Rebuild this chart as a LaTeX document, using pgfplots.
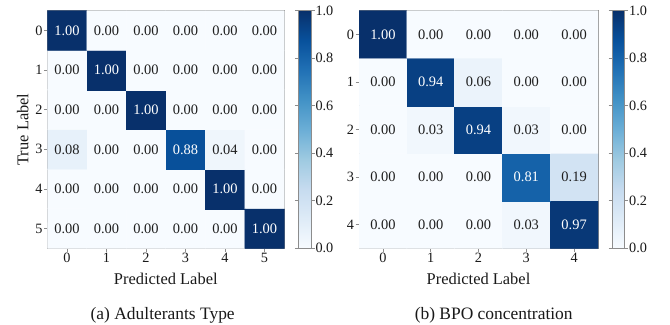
\documentclass[border=0pt]{standalone}
\usepackage{pgfplots}
\usepackage{pgfplotstable}
\pgfplotsset{compat=1.18}
\usepackage{fontspec}
\setmainfont{Liberation Serif}
\definecolor{frame}{gray}{0.55}
\pgfplotsset{colormap={Blues}{rgb255=(247,251,255) rgb255=(222,235,247) rgb255=(198,219,239) rgb255=(158,202,225) rgb255=(107,174,214) rgb255=(66,146,198) rgb255=(33,113,181) rgb255=(8,81,156) rgb255=(8,48,107)}}

% x = predicted label, y = 5 - true label (left) / 4 - true label (right)
\pgfplotstableread{
x y c
0 0 0.00
1 0 0.00
2 0 0.00
3 0 0.00
4 0 0.00
5 0 1.00
0 1 0.00
1 1 0.00
2 1 0.00
3 1 0.00
4 1 1.00
5 1 0.00
0 2 0.08
1 2 0.00
2 2 0.00
3 2 0.88
4 2 0.04
5 2 0.00
0 3 0.00
1 3 0.00
2 3 1.00
3 3 0.00
4 3 0.00
5 3 0.00
0 4 0.00
1 4 1.00
2 4 0.00
3 4 0.00
4 4 0.00
5 4 0.00
0 5 1.00
1 5 0.00
2 5 0.00
3 5 0.00
4 5 0.00
5 5 0.00
}\cmA

\pgfplotstableread{
x y c
0 0 0.00
1 0 0.00
2 0 0.00
3 0 0.03
4 0 0.97
0 1 0.00
1 1 0.00
2 1 0.00
3 1 0.81
4 1 0.19
0 2 0.00
1 2 0.03
2 2 0.94
3 2 0.03
4 2 0.00
0 3 0.00
1 3 0.94
2 3 0.06
3 3 0.00
4 3 0.00
0 4 1.00
1 4 0.00
2 4 0.00
3 4 0.00
4 4 0.00
}\cmB

\pgfplotsset{
  cmstyle/.style={
    scale only axis,
    colormap name=Blues,
    point meta min=0, point meta max=1,
    axis line style={frame, line width=0.6pt},
    tick style={frame, line width=0.6pt},
    tick align=outside,
    major tick length=3.5bp,
    xtick pos=bottom, ytick pos=left,
    ticklabel style={font=\fontsize{14.3}{16}\selectfont, text=black!90, inner sep=1.2bp},
    label style={font=\fontsize{16.5}{19}\selectfont, text=black!90},
    xlabel style={at={(axis description cs:0.5,0)}, anchor=base, yshift=-36.5bp},
    ylabel style={at={(axis description cs:0,0.5)}, anchor=base, yshift=19bp},
    colorbar,
    colorbar style={
      at={(parent axis.north east)}, anchor=north west, xshift=5.5bp,
      width=12.7bp,
      ytick={0,0.2,0.4,0.6,0.8,1.0},
      axis line style={frame, line width=0.6pt},
      tick style={frame, line width=0.6pt},
      tick align=outside, major tick length=3.5bp,
      yticklabel style={font=\fontsize{14.3}{16}\selectfont, text=black!90, inner sep=0.8bp,
        /pgf/number format/fixed, /pgf/number format/fixed zerofill,
        /pgf/number format/precision=1, /pgf/number format/assume math mode=true},
    },
  },
  cellnums/.style={
    draw=none, mark=none,
    point meta=explicit,
    nodes near coords={\ifdim\pgfplotspointmetatransformed pt>500pt\color{white}\fi\pgfmathprintnumber[fixed,fixed zerofill,precision=2,assume math mode=true]{\pgfplotspointmeta}},
    nodes near coords align=center,
    every node near coord/.append style={font=\fontsize{14.5}{16}\selectfont, text=black!88, inner sep=0pt},
  },
}

\begin{document}
\begin{tikzpicture}[x=1bp,y=1bp]
\useasboundingbox (0,0) rectangle (670,324);

\begin{axis}[cmstyle,
  at={(47.3bp,75.7bp)}, anchor=south west,
  width=237bp, height=237.6bp,
  xmin=-0.5, xmax=5.5, ymin=-0.5, ymax=5.5,
  xtick={0,1,2,3,4,5}, xticklabels={0,1,2,3,4,5},
  ytick={0,1,2,3,4,5}, yticklabels={5,4,3,2,1,0},
  xlabel={Predicted Label}, ylabel={True Label},
]
\addplot[matrix plot*, mesh/cols=6, point meta=explicit] table[x=x, y=y, meta=c] {\cmA};
\addplot[cellnums] table[x=x, y=y, meta=c] {\cmA};
\end{axis}

\begin{axis}[cmstyle,
  at={(359bp,75.7bp)}, anchor=south west,
  width=239bp, height=237.6bp,
  xmin=-0.5, xmax=4.5, ymin=-0.5, ymax=4.5,
  xtick={0,1,2,3,4}, xticklabels={0,1,2,3,4},
  ytick={0,1,2,3,4}, yticklabels={4,3,2,1,0},
  xlabel={Predicted Label},
]
\addplot[matrix plot*, mesh/cols=5, point meta=explicit] table[x=x, y=y, meta=c] {\cmB};
\addplot[cellnums] table[x=x, y=y, meta=c] {\cmB};
\end{axis}

\node[anchor=base, font=\fontsize{17.5}{20}\selectfont, text=black!90] at (162.7,4.8) {(a) Adulterants Type};
\node[anchor=base, font=\fontsize{17.5}{20}\selectfont, text=black!90] at (493.7,4.8) {(b) BPO concentration};
\end{tikzpicture}
\end{document}
